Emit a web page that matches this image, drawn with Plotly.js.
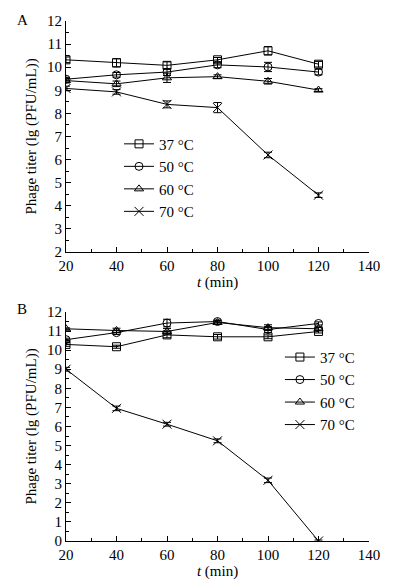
<!DOCTYPE html>
<html>
<head>
<meta charset="utf-8">
<script src="https://cdn.plot.ly/plotly-3.0.1.min.js"></script>
<style>html,body{margin:0;padding:0;background:#fff;}#chart{width:395px;height:586px;}</style>
</head>
<body>
<div id="chart"></div>
<script>
const times = [20, 40, 60, 80, 100, 120];
const seriesNames = ["37 °C", "50 °C", "60 °C", "70 °C"];

// Panel A values
const A37 = [10.32, 10.19, 10.08, 10.32, 10.71, 10.13];
const A37err = [0.12, 0.18, 0.15, 0.10, 0.18, 0.12];
const A50 = [9.48, 9.67, 9.79, 10.10, 10.01, 9.79];
const A50err = [0.08, 0.10, 0.15, 0.12, 0.20, 0.12];
const A60 = [9.42, 9.28, 9.54, 9.59, 9.39, 9.01];
const A60err = [0.10, 0.12, 0.20, 0.08, 0.12, 0.06];
const A70 = [9.08, 8.93, 8.39, 8.25, 6.20, 4.46];
const A70err = [0.10, 0.10, 0.15, 0.22, 0.12, 0.10];

// Panel B values
const B37 = [10.30, 10.18, 10.80, 10.70, 10.70, 10.98];
const B37err = [0.10, 0.08, 0.15, 0.12, 0.10, 0.08];
const B50 = [10.55, 10.92, 11.42, 11.50, 11.08, 11.40];
const B50err = [0.08, 0.10, 0.20, 0.08, 0.15, 0.08];
const B60 = [11.12, 11.03, 10.98, 11.45, 11.18, 11.12];
const B60err = [0.05, 0.12, 0.15, 0.10, 0.15, 0.10];
const B70 = [9.00, 6.95, 6.12, 5.25, 3.18, 0.00];
const B70err = [0.10, 0.12, 0.10, 0.10, 0.12, 0.05];

const symbols = ["square-open", "circle-open", "triangle-up-open", "x-thin"];
const font = {family: "Liberation Serif, Times New Roman, serif", size: 15, color: "#000"};
const legFont = {family: "Liberation Serif, Times New Roman, serif", size: 15, color: "#000"};

function tr(y, err, i, xa, ya, leg) {
  return {
    x: times, y: y, type: "scatter", mode: "lines+markers",
    name: seriesNames[i], xaxis: xa, yaxis: ya, legend: leg,
    line: {color: "#000", width: 1},
    marker: {symbol: symbols[i], size: i === 3 ? 9 : 8, color: "#000", line: {color: "#000", width: 1}},
    error_y: {type: "data", array: err, visible: true, color: "#000", thickness: 1, width: 4}
  };
}

const data = [
  tr(A37, A37err, 0, "x", "y", "legend"),
  tr(A50, A50err, 1, "x", "y", "legend"),
  tr(A60, A60err, 2, "x", "y", "legend"),
  tr(A70, A70err, 3, "x", "y", "legend"),
  tr(B37, B37err, 0, "x2", "y2", "legend2"),
  tr(B50, B50err, 1, "x2", "y2", "legend2"),
  tr(B60, B60err, 2, "x2", "y2", "legend2"),
  tr(B70, B70err, 3, "x2", "y2", "legend2")
];

function xax(anchor) {
  return {
    anchor: anchor, domain: [0, 1], range: [20, 140], dtick: 20, tick0: 20,
    showline: true, linecolor: "#000", linewidth: 1, mirror: false,
    ticks: "inside", ticklen: 5, tickcolor: "#000", showgrid: false, zeroline: false,
    minor: {dtick: 10, ticks: "inside", ticklen: 3, tickcolor: "#000", showgrid: false},
    tickfont: font,
    title: {text: "<i>t</i> (min)", font: font, standoff: 1}
  };
}
function yax(anchor, dom, rng) {
  return {
    anchor: anchor, domain: dom, range: rng, dtick: 1,
    showline: true, linecolor: "#000", linewidth: 1, mirror: false,
    ticks: "inside", ticklen: 5, tickcolor: "#000", showgrid: false, zeroline: false,
    minor: {dtick: 0.5, ticks: "inside", ticklen: 3, tickcolor: "#000", showgrid: false},
    tickfont: font,
    title: {text: "Phage titer (lg (PFU/mL))", font: font, standoff: 6}
  };
}

const layout = {
  width: 395, height: 586,
  margin: {l: 66, r: 26, t: 21, b: 45},
  paper_bgcolor: "#fff", plot_bgcolor: "#fff",
  font: font,
  xaxis: xax("y"),
  yaxis: yax("x", [0.5558, 1], [2, 12]),
  xaxis2: xax("y2"),
  yaxis2: yax("x2", [0, 0.4404], [0, 12]),
  showlegend: true,
  legend: {x: 0.175, y: 0.795, xanchor: "left", yanchor: "top", bgcolor: "rgba(0,0,0,0)",
           font: legFont, itemwidth: 30, tracegroupgap: 0},
  legend2: {x: 0.706, y: 0.385, xanchor: "left", yanchor: "top", bgcolor: "rgba(0,0,0,0)",
           font: legFont, itemwidth: 30, tracegroupgap: 0},
  annotations: [
    {text: "A", xref: "paper", yref: "paper", x: -0.145, y: 1.002, xanchor: "center", yanchor: "middle", showarrow: false, font: font},
    {text: "B", xref: "paper", yref: "paper", x: -0.145, y: 0.446, xanchor: "center", yanchor: "middle", showarrow: false, font: font}
  ]
};

Plotly.newPlot("chart", data, layout, {displayModeBar: false, staticPlot: true});
</script>
</body>
</html>
